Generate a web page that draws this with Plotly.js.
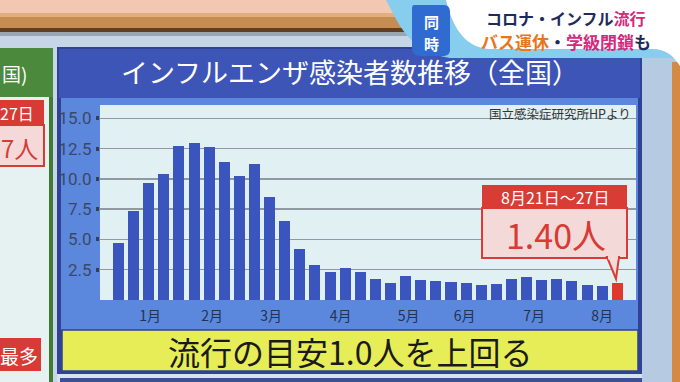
<!DOCTYPE html>
<html><head><meta charset="utf-8">
<script src="https://cdn.plot.ly/plotly-3.0.1.min.js"></script>
<style>html,body{margin:0;padding:0;background:#c6d6e6;overflow:hidden}#chart{width:680px;height:382px;}</style>
</head><body><div id="chart"></div>
<script>
// ---- data ----
const weekNumbers = [1,2,3,4,5,6,7,8,9,10,11,12,13,14,15,16,17,18,19,20,21,22,23,24,25,26,27,28,29,30,31,32,33,34];
const fluValues = [4.73, 7.38, 9.62, 10.39, 12.68, 12.95, 12.62, 11.41, 10.25, 11.19, 8.54, 6.55, 4.18, 2.91, 2.33, 2.62, 2.30, 1.73, 1.40, 1.95, 1.68, 1.60, 1.45, 1.37, 1.26, 1.35, 1.76, 1.87, 1.68, 1.76, 1.56, 1.21, 1.15, 1.40];
const monthLabels = ['1月','2月','3月','4月','5月','6月','7月','8月'];
const monthTickWeeks = [3.1, 7.2, 11.1, 15.7, 20.2, 23.9, 28.5, 33.0];
const yTickValues = [2.5, 5.0, 7.5, 10.0, 12.5, 15.0];
const chartTitle = 'インフルエンザ感染者数推移（全国）';
const sourceNote = '国立感染症研究所HPより';
const highlightPeriod = '8月21日～27日';
const headline = '流行の目安1.0人を上回る';

// ---- layout helpers (pixel -> paper) ----
const W=680,H=382,L=100,R=636,T=105,B=300;
const X = p => (p-L)/(R-L);
const Y = p => (B-p)/(B-T);
const JP = '"Noto Sans CJK JP", "Noto Sans", sans-serif';
function rect(x0,y0,x1,y1,fill,lc,lw,layer){
  return {type:'rect',xref:'paper',yref:'paper',x0:X(x0),x1:X(x1),y0:Y(y1),y1:Y(y0),
    fillcolor:fill,line:{color:lc||'rgba(0,0,0,0)',width:lw||0},layer:layer||'below'};
}
function P(cmds){
  return cmds.map(c=>{ if(c[0]==='Z') return 'Z'; let s=c[0];
    const pts=[]; for(let i=1;i<c.length;i+=2){pts.push(X(c[i]).toFixed(5)+','+Y(c[i+1]).toFixed(5));}
    return s+pts.join(' ');}).join(' ');
}
function path(cmds,fill,lc,lw,layer){
  return {type:'path',xref:'paper',yref:'paper',path:P(cmds),fillcolor:fill,
    line:{color:lc||'rgba(0,0,0,0)',width:lw||0},layer:layer||'below'};
}
function ann(x,y,text,size,color,xa,extra){
  return Object.assign({xref:'paper',yref:'paper',x:X(x),y:Y(y),text:text,showarrow:false,
    xanchor:xa||'center',yanchor:'middle',borderpad:0,font:{family:JP,size:size,color:color}},extra||{});
}

const last = fluValues.length-1;
const barColors = fluValues.map((v,i)=> i===last ? '#e0382f' : '#3a55be');

const shapes = [
  // backdrop
  rect(0,0,680,14,'#f3c8b2'),
  rect(0,13,430,31,'#c68c52'),
  rect(0,13,430,17,'#dfb07e'),
  rect(0,28,430,32,'#5f3e22'),
  rect(0,32,430,36,'#9aa6b2'),
  // left panel
  rect(0,97,50,382,'#e6f2f2'),
  rect(0,48,53,97,'#4b8a3d'),
  rect(49,97,53,382,'#3f7b34'),
  rect(0,100,44,125,'#d83b36'),
  rect(-2,125,44,166,'#f4d9d8','#d83b36',2),
  rect(0,338,41,371,'#d83b36'),
  // right edge
  rect(642,48,680,382,'#b6cbe1'),
  rect(672,62,680,382,'#d48a42'),
  // main panel
  rect(57,47,642,374,'#2f4294'),
  rect(59,49,640,98,'#3d55b6'),
  rect(61,98,638,330,'#5b88dc'),
  rect(L,T,R,B,'#e1f0f3'),
  rect(62,330,638,371,'#e7ed56','#2f4294',1.5),
  rect(57,374,642,382,'#d6e2ec'),
  rect(60,378,642,382,'#3a4f9a'),
  // top-right banner
  path([['M',386,0],['C',398,22,408,52,450,58],['L',680,58],['L',680,0],['Z']],'#86cdee'),
  path([['M',446,0],['C',452,24,462,46,488,49],['L',652,49],['C',666,49,674,56,680,66],['L',680,0],['Z']],'#ffffff'),
  path([['M',414,5],['L',444,5],['C',448,5,450,8,450,12],['L',450,50],['C',450,54,447,56,443,56],['L',420,56],['C',415,56,412,53,412,48],['L',412,9],['C',412,6,413,5,414,5],['Z']],'#2f6bd0'),
  // callout (above bars)
  rect(482,185,627,208,'#d93c35',null,0,'above'),
  rect(482,208,627,258,'#f3d9d8','#d93c35',2,'above'),
  path([['M',607,257],['L',616,279],['L',619,257],['Z']],'#f3d9d8','#d93c35',2,'above'),
  rect(608,254,618,259.5,'#f3d9d8',null,0,'above')
];

const annotations = [
  ann(1,74,'国)',19,'#ffffff','left'),
  ann(35,113,'27日',16,'#ffffff','right'),
  ann(39,147,'7人',24,'#d83b36','right'),
  ann(39,355,'最多',19,'#ffffff','right'),
  ann(431,21,'同',15,'#ffffff','center',{font:{family:JP,size:15,color:'#ffffff',weight:700}}),
  ann(431,43,'時',15,'#ffffff','center',{font:{family:JP,size:15,color:'#ffffff',weight:700}}),
  ann(566,18,'<span style="color:#1d2b5c">コロナ・インフル</span><span style="color:#d22a7c">流行</span>',16,'#1d2b5c','center',{font:{family:JP,size:16,weight:700}}),
  ann(566,41,'<span style="color:#e8761c">バス運休</span><span style="color:#1d2b5c">・</span><span style="color:#d22a7c">学級閉鎖</span><span style="color:#1d2b5c">も</span>',17,'#1d2b5c','center',{font:{family:JP,size:17,weight:700}}),
  ann(632,113,sourceNote,12.5,'#333333','right'),
  ann(554.5,197,highlightPeriod,16,'#ffffff','center'),
  ann(556,234,fluValues[last].toFixed(2)+'人',34,'#d93a33','center'),
  ann(350,351,headline,32,'#1a1a1a','center')
];

const trace = {type:'bar',x:weekNumbers,y:fluValues,width:0.73,
  marker:{color:barColors,line:{width:0}},hoverinfo:'none'};

const layout = {
  width:W,height:H,
  margin:{l:L,r:W-R,t:T,b:H-B,pad:0},
  paper_bgcolor:'#c6d6e6',plot_bgcolor:'rgba(0,0,0,0)',
  showlegend:false,
  title:{text:chartTitle,x:350/W,xanchor:'center',y:1-74/H,yanchor:'middle',yref:'container',
    font:{family:JP,size:27,color:'#ffffff'}},
  xaxis:{range:[-0.22,35.24],tickvals:monthTickWeeks,ticktext:monthLabels,showgrid:false,zeroline:false,
    showline:false,ticks:'',ticklabelstandoff:6,tickfont:{family:JP,size:14,color:'#26324f'},fixedrange:true},
  yaxis:{range:[0,16.1],tickvals:yTickValues,ticktext:yTickValues.map(v=>v.toFixed(1)),
    showgrid:true,gridcolor:'#8f999f',gridwidth:1.5,zeroline:false,showline:false,
    ticks:'outside',ticklen:3,tickwidth:4,tickcolor:'#3a3f4f',ticklabelstandoff:1,
    tickfont:{family:'Roboto, sans-serif',size:17,color:'#3a4866'},fixedrange:true},
  shapes:shapes,annotations:annotations,bargap:0
};
Plotly.newPlot('chart',[trace],layout,{staticPlot:true,displayModeBar:false});
</script></body></html>
